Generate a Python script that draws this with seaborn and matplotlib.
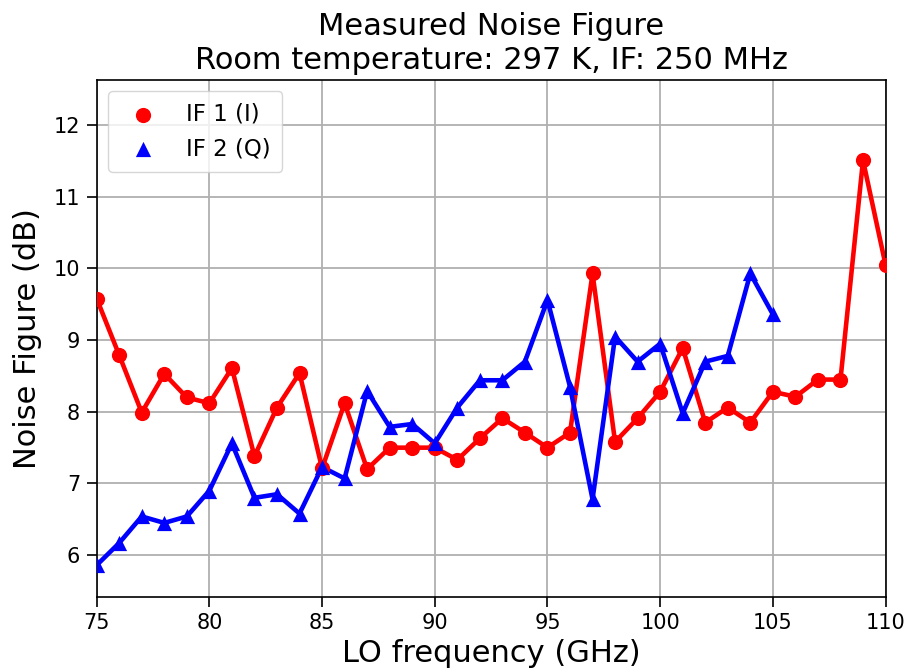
import matplotlib
matplotlib.use("Agg")
import matplotlib.pyplot as plt
import seaborn as sns
import pandas as pd

freq_if1 = [75, 76, 77, 78, 79, 80, 81, 82, 83, 84, 85, 86, 87, 88, 89, 90, 91, 92,
            93, 94, 95, 96, 97, 98, 99, 100, 101, 102, 103, 104, 105, 106, 107, 108, 109, 110]
nf_if1 = [9.58, 8.79, 7.99, 8.53, 8.20, 8.12, 8.61, 7.38, 8.06, 8.54, 7.21, 8.12, 7.20, 7.50,
          7.50, 7.50, 7.33, 7.63, 7.91, 7.71, 7.50, 7.71, 9.93, 7.58, 7.91, 8.28, 8.89, 7.85,
          8.06, 7.85, 8.28, 8.21, 8.45, 8.45, 11.51, 10.05]

freq_if2 = [75, 76, 77, 78, 79, 80, 81, 82, 83, 84, 85, 86, 87, 88, 89, 90, 91, 92,
            93, 94, 95, 96, 97, 98, 99, 100, 101, 102, 103, 104, 105]
nf_if2 = [5.86, 6.17, 6.54, 6.45, 6.54, 6.90, 7.56, 6.80, 6.85, 6.58, 7.23, 7.07, 8.29, 7.79,
          7.83, 7.56, 8.06, 8.44, 8.44, 8.70, 9.56, 8.35, 6.78, 9.05, 8.70, 8.95, 7.98, 8.70,
          8.78, 9.93, 9.36]

labels = ["IF 1 (I)", "IF 2 (Q)"]
colors = ["red", "blue"]
markers = ["o", "^"]

df1 = pd.DataFrame({"freq": freq_if1, "nf": nf_if1})
df2 = pd.DataFrame({"freq": freq_if2, "nf": nf_if2})

sns.set_style("white")
plt.rcParams['font.family'] = ['DejaVu Sans']
plt.rcParams['text.color'] = 'black'
plt.rcParams['axes.labelcolor'] = 'black'
plt.rcParams['xtick.color'] = 'black'
plt.rcParams['ytick.color'] = 'black'

fig = plt.figure(figsize=(9.12, 6.72), dpi=100)
ax = fig.add_axes([0.106, 0.112, 0.865, 0.769])

for df, c, m, lab in [(df1, colors[0], markers[0], labels[0]), (df2, colors[1], markers[1], labels[1])]:
    sns.lineplot(data=df, x="freq", y="nf", color=c, linewidth=3.3, ax=ax, legend=False, zorder=2)
    sns.scatterplot(data=df, x="freq", y="nf", color=c, marker=m, s=120, linewidth=0,
                    ax=ax, label=lab, zorder=3)

ax.set_xlim(75, 110)
ax.set_ylim(5.42, 12.63)
ax.set_xticks(range(75, 111, 5))
ax.set_yticks(range(6, 13))
ax.grid(True, color="#b0b0b0", linewidth=1.3)
ax.set_axisbelow(True)
for sp in ax.spines.values():
    sp.set_color("black")
    sp.set_linewidth(1.2)
ax.tick_params(axis="both", which="major", labelsize=15, direction="out", length=7,
               width=1.2, color="black", labelcolor="black", left=True, bottom=True, pad=5)
ax.set_xlabel("LO frequency (GHz)", fontsize=22, color="black", labelpad=4)
ax.set_ylabel("Noise Figure (dB)", fontsize=22, color="black", labelpad=8)
ax.set_title("Measured Noise Figure\nRoom temperature: 297 K, IF: 250 MHz", fontsize=22,
             pad=8, color="black")
leg = ax.legend(loc="upper left", fontsize=16.5, frameon=True, framealpha=0.8,
                borderpad=0.5, handletextpad=0.9, borderaxespad=0.5, markerscale=1.0)
leg.get_frame().set_edgecolor("#cccccc")
for t in leg.get_texts():
    t.set_color("black")

fig.savefig("out.png", dpi=100)
